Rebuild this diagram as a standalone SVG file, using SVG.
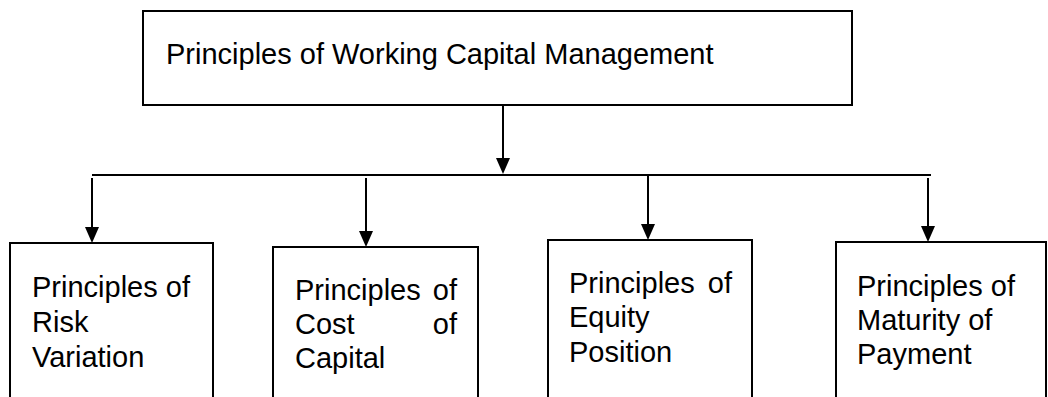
<svg xmlns="http://www.w3.org/2000/svg" width="1048" height="397" viewBox="0 0 1048 397">
<style>
.box{fill:#fff;stroke:#000;stroke-width:2}
.t{font-family:"Liberation Sans",Arial,sans-serif;font-size:29px;fill:#000}
.c{stroke:#000;stroke-width:2;fill:none}
.ah{fill:#000}
</style>
<rect width="1048" height="397" fill="#fff"/>
<g id="connectors">
<line class="c" x1="503" y1="105" x2="503" y2="160"/>
<path class="ah" d="M496,158 L510,158 L503,174 Z"/>
<line class="c" x1="92" y1="175" x2="931" y2="175"/>
<line class="c" x1="92" y1="178" x2="92" y2="228"/>
<path class="ah" d="M85,227 L99,227 L92,243 Z"/>
<line class="c" x1="366" y1="178" x2="366" y2="232"/>
<path class="ah" d="M359,231 L373,231 L366,247 Z"/>
<line class="c" x1="648" y1="175" x2="648" y2="225"/>
<path class="ah" d="M641,224 L655,224 L648,240 Z"/>
<line class="c" x1="928" y1="178" x2="928" y2="227"/>
<path class="ah" d="M921,226 L935,226 L928,242 Z"/>
</g>
<g id="root">
<rect class="box" x="143" y="11" width="709" height="94"/>
<text class="t" x="166" y="64">Principles of Working Capital Management</text>
</g>
<g id="risk">
<rect class="box" x="10" y="243" width="203" height="170"/>
<text class="t" x="32" y="297">Principles of</text>
<text class="t" x="32" y="332">Risk</text>
<text class="t" x="32" y="367">Variation</text>
</g>
<g id="cost">
<rect class="box" x="273" y="247" width="205" height="170"/>
<text class="t" x="295" y="300">Principles</text>
<text class="t" x="457" y="300" text-anchor="end">of</text>
<text class="t" x="295" y="334">Cost</text>
<text class="t" x="457" y="334" text-anchor="end">of</text>
<text class="t" x="295" y="368">Capital</text>
</g>
<g id="equity">
<rect class="box" x="548" y="240" width="204" height="170"/>
<text class="t" x="569" y="293">Principles</text>
<text class="t" x="732" y="293" text-anchor="end">of</text>
<text class="t" x="569" y="327">Equity</text>
<text class="t" x="569" y="362">Position</text>
</g>
<g id="maturity">
<rect class="box" x="836" y="242" width="210" height="170"/>
<text class="t" x="857" y="296">Principles of</text>
<text class="t" x="857" y="330">Maturity of</text>
<text class="t" x="857" y="364">Payment</text>
</g>
</svg>
